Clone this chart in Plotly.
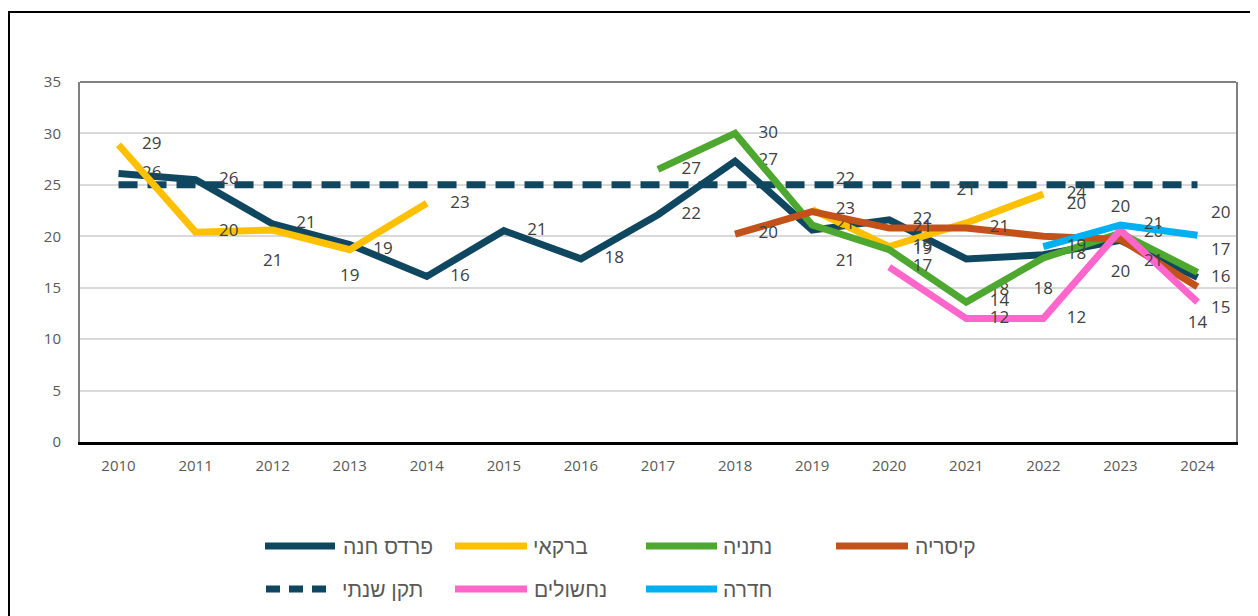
import plotly.graph_objects as go

# ---------------- data ----------------
years = ["2010", "2011", "2012", "2013", "2014", "2015", "2016", "2017",
         "2018", "2019", "2020", "2021", "2022", "2023", "2024"]
pardes_hana = [26.1, 25.5, 21.2, 19.2, 16.1, 20.55, 17.8, 22.1, 27.3, 20.6, 21.6, 17.8, 18.2, 19.6, 16.0]
barkai = [28.9, 20.4, 20.6, 18.7, 23.2, None, None, None, None, 22.6, 19.0, 21.3, 24.1, None, None]
netanya = [None, None, None, None, None, None, None, 26.5, 30.0, 21.1, 18.7, 13.6, 17.9, 20.3, 16.5]
caesarea = [None, None, None, None, None, None, None, None, 20.2, 22.4, 20.8, 20.8, 20.0, 19.7, 15.1]
nahsholim = [None, None, None, None, None, None, None, None, None, None, 17.0, 12.0, 12.0, 20.6, 13.6]
hadera = [None, None, None, None, None, None, None, None, None, None, None, None, 19.0, 21.1, 20.1]
annual_standard = [25, 25, 25, 25, 25, 25, 25, 25, 25, 25, 25, 25, 25, 25, 25]

series_names = ["פרדס חנה", "ברקאי", "נתניה", "קיסריה", "תקן שנתי", "נחשולים", "חדרה"]

# ---------------- styles ----------------
C_NAVY = "#104760"
C_YEL = "#FFC000"
C_GRN = "#4EA72E"
C_ORG = "#C2521A"
C_PINK = "#FF66CC"
C_CYAN = "#00B0F0"
STD_DASH = "19px,10px"

MR = "middle right"
BR = "bottom right"
BC = "bottom center"
TR = "top right"
TC = "top center"
pos_pardes = [MR, MR, MR, BC, MR, MR, MR, MR, MR, BR, MR, BR, MR, BC, MR]
pos_barkai = [MR, MR, BC, MR, MR, MR, MR, MR, MR, MR, MR, TC, MR, MR, MR]
pos_netanya = [MR, MR, MR, MR, MR, MR, MR, MR, MR, MR, MR, MR, BC, MR, TR]
pos_caesarea = [MR, MR, MR, MR, MR, MR, MR, MR, MR, TR, MR, MR, TR, TC, BR]
pos_nahsholim = [MR, MR, MR, MR, MR, MR, MR, MR, MR, MR, MR, MR, MR, BR, BC]
pos_hadera = [MR, MR, MR, MR, MR, MR, MR, MR, MR, MR, MR, MR, MR, MR, TR]
# invisible marker size controls how far each label sits from its point
label_gap = [36, 36, 36, 36, 36, 36, 36, 36, 36, 36, 36, 36, 36, 36, 20]

LABEL_FONT = dict(family="Open Sans, Liberation Sans, sans-serif", size=17, color="#404040")
LEG_FONT = dict(family="Liberation Sans, DejaVu Sans, sans-serif", size=21, color="#595959")
TICK_FONT = dict(family="Open Sans, Liberation Sans, sans-serif", size=15, color="#595959")

fig = go.Figure()


def add_series(y, name, color, positions, dash="solid", labels=True):
    fig.add_trace(go.Scatter(
        x=years, y=y, name=name,
        mode="lines+markers+text" if labels else "lines",
        line=dict(color=color, width=7, dash=dash),
        marker=dict(size=label_gap, color="rgba(0,0,0,0)", opacity=0,
                    line=dict(width=0, color="rgba(0,0,0,0)")),
        texttemplate="%{y:.0f}" if labels else None,
        textposition=positions,
        textfont=LABEL_FONT,
        connectgaps=False,
        cliponaxis=False,
        showlegend=False,
    ))


add_series(annual_standard, series_names[4], C_NAVY, None, dash=STD_DASH, labels=False)
add_series(pardes_hana, series_names[0], C_NAVY, pos_pardes)
add_series(barkai, series_names[1], C_YEL, pos_barkai)
add_series(netanya, series_names[2], C_GRN, pos_netanya)
add_series(caesarea, series_names[3], C_ORG, pos_caesarea)
add_series(nahsholim, series_names[5], C_PINK, pos_nahsholim)
add_series(hadera, series_names[6], C_CYAN, pos_hadera)

# ---------------- layout geometry ----------------
# the page body adds an 8px margin; positions below are measured on screen
PAGE = 8
W, H = 1258, 616
ML, MR_, MT, MB = 72, 30, 74, 182
PW, PH = W - ML - MR_, H - MT - MB


def px(xs):
    return (xs - PAGE - ML) / PW


def py(ys):
    return (H - MB - (ys - PAGE)) / PH


# manual legend (line sample + label), two rows
legend_items = [
    # (name index, color, dash, line x0, line x1, text x, row y)  -- screen px
    (0, C_NAVY, "solid", 265, 335, 341, 546),
    (1, C_YEL, "solid", 455, 527, 531, 546),
    (2, C_GRN, "solid", 646, 717, 721, 546),
    (3, C_ORG, "solid", 836, 908, 913, 546),
    (4, C_NAVY, "14px,9px", 266, 332, 340, 589),
    (5, C_PINK, "solid", 455, 527, 532, 589),
    (6, C_CYAN, "solid", 646, 717, 721, 589),
]
shapes = [
    dict(type="line", xref="paper", yref="paper", x0=0, x1=1, y0=1, y1=1,
         line=dict(color="#808080", width=2)),
    dict(type="rect", xref="paper", yref="paper",
         x0=px(9), x1=px(1256), y0=py(660), y1=py(12),
         line=dict(color="#000000", width=2), layer="below"),
]
annotations = []
for idx, col, dsh, x0, x1, tx, ry in legend_items:
    shapes.append(dict(type="line", xref="paper", yref="paper",
                       x0=px(x0), x1=px(x1), y0=py(ry), y1=py(ry),
                       line=dict(color=col, width=7, dash=dsh)))
    annotations.append(dict(xref="paper", yref="paper", x=px(tx), y=py(ry),
                            xanchor="left", yanchor="middle", showarrow=False,
                            text=series_names[idx], font=LEG_FONT))

fig.update_layout(
    width=W, height=H,
    margin=dict(l=ML, r=MR_, t=MT, b=MB),
    paper_bgcolor="white", plot_bgcolor="white",
    showlegend=False,
    xaxis=dict(
        type="category", range=[-0.5, 14.5],
        showgrid=False, showline=True, linecolor="#000000", linewidth=2.5,
        ticks="", tickfont=TICK_FONT, ticklabelstandoff=8,
        zeroline=False, fixedrange=True,
    ),
    yaxis=dict(
        range=[0, 35], dtick=5, tick0=0,
        showgrid=True, gridcolor="#d9d9d9", gridwidth=1.5,
        showline=True, linecolor="#808080", linewidth=2, mirror=True,
        ticks="", tickfont=TICK_FONT, ticklabelstandoff=14,
        zeroline=False, fixedrange=True,
    ),
    shapes=shapes,
    annotations=annotations,
)

fig.write_html("out.html")
